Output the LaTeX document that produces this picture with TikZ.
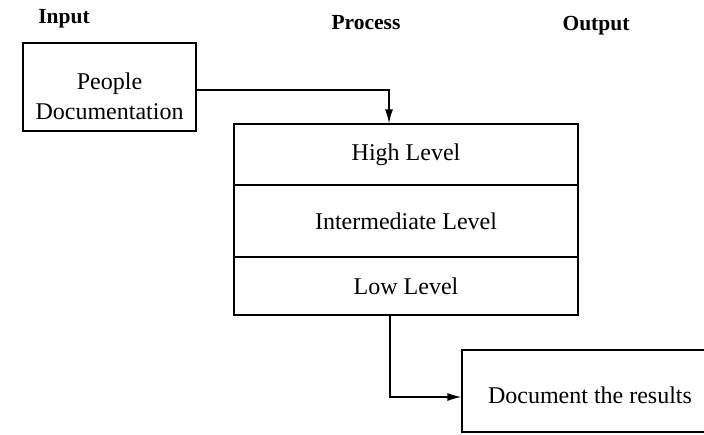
\documentclass[tikz,border=0pt]{standalone}
\usepackage{fontspec}
\setmainfont{Liberation Serif}
\usetikzlibrary{arrows.meta}
\begin{document}
\begin{tikzpicture}[x=1pt,y=-1pt,
  box/.style={draw, line width=1.3pt, inner sep=0pt},
  txt/.style={inner sep=0pt, align=center, font=\fontsize{24}{30}\selectfont},
  head/.style={inner sep=0pt, font=\fontsize{21.5}{26}\selectfont\bfseries},
  arr/.style={line width=1.3pt, -{Latex[length=14pt,width=8pt]}}]
\useasboundingbox (0,0) rectangle (704,434);
\node[head] (hin) at (64,19) {Input};
\node[head] (hproc) at (366,23) {Process};
\node[head] (hout) at (596,26) {Output};
\node[box, minimum width=173pt, minimum height=88pt] (in) at (109.5,87) {};
\node[txt] (inlbl) at ([yshift=-9pt]in.center) {People\\Documentation};
\node[box, txt, minimum width=344pt, minimum height=61pt] (high) at (406,154.5) {High Level};
\node[box, txt, minimum width=344pt, minimum height=72pt] (inter) at (406,221) {Intermediate Level};
\node[box, txt, minimum width=344pt, minimum height=58pt] (low) at (406,286) {Low Level};
\node[box, minimum width=256pt, minimum height=82pt] (out) at (590,391) {};
\node[txt] (outlbl) at ([yshift=-4pt]out.center) {Document the results};
\draw[arr] ([yshift=-3pt]in.east) -| ([xshift=-17pt]high.north);
\draw[arr] ([xshift=-16pt]low.south) |- ([yshift=-6pt]out.west);
\end{tikzpicture}
\end{document}
